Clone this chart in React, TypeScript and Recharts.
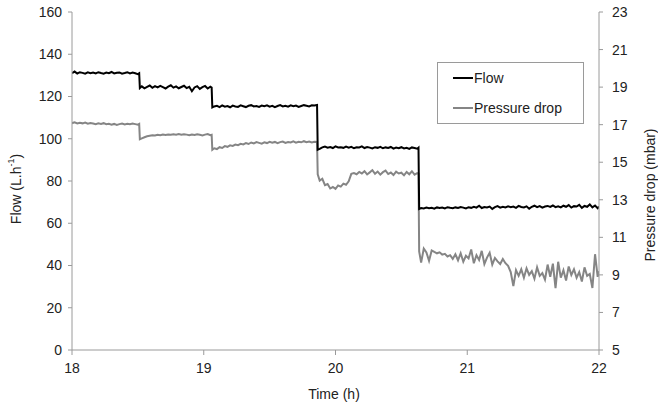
import React from "react";
import { Legend, Line, LineChart, XAxis, YAxis } from "recharts";

// Logged samples, one block per flow plateau (time in h, flow in L/h, pressure drop in mbar)
const timeA = [18.0, 18.02, 18.04, 18.06, 18.08, 18.1, 18.12, 18.14, 18.16, 18.18, 18.2, 18.22, 18.24, 18.26, 18.28, 18.3, 18.32, 18.34, 18.36, 18.38, 18.4, 18.42, 18.44, 18.46, 18.48, 18.5, 18.51];
const flowA = [131.0, 131.8, 130.9, 131.5, 131.2, 130.8, 131.4, 131.0, 131.3, 130.9, 131.5, 131.1, 130.8, 131.3, 131.0, 131.6, 130.9, 131.2, 131.4, 130.8, 131.1, 131.5, 130.9, 131.3, 131.0, 130.6, 131.0];
const dpA = [17.08, 17.12, 17.06, 17.1, 17.07, 17.11, 17.05, 17.09, 17.06, 17.03, 17.07, 17.04, 17.08, 17.02, 17.05, 17.0, 17.04, 16.99, 17.03, 17.06, 17.01, 17.05, 17.02, 17.06, 17.03, 17.0, 17.04];

const timeB = [18.515, 18.53, 18.55, 18.57, 18.59, 18.61, 18.63, 18.65, 18.67, 18.69, 18.71, 18.73, 18.75, 18.77, 18.79, 18.81, 18.83, 18.85, 18.87, 18.89, 18.91, 18.93, 18.95, 18.97, 18.99, 19.01, 19.03, 19.05, 19.06];
const flowB = [124.0, 124.8, 123.9, 124.6, 125.2, 124.1, 124.9, 124.3, 125.0, 124.4, 123.8, 124.7, 125.3, 124.2, 124.8, 123.9, 124.5, 125.1, 124.0, 124.6, 122.5, 124.3, 124.9, 123.6, 124.4, 125.0, 123.8, 124.6, 124.2];
const dpB = [16.22, 16.27, 16.33, 16.38, 16.41, 16.44, 16.42, 16.46, 16.44, 16.47, 16.45, 16.48, 16.46, 16.49, 16.47, 16.5, 16.46, 16.49, 16.47, 16.44, 16.48, 16.45, 16.49, 16.46, 16.43, 16.47, 16.5, 16.44, 16.46];

const timeC = [19.065, 19.08, 19.1, 19.12, 19.14, 19.16, 19.18, 19.2, 19.22, 19.24, 19.26, 19.28, 19.3, 19.32, 19.34, 19.36, 19.38, 19.4, 19.42, 19.44, 19.46, 19.48, 19.5, 19.52, 19.54, 19.56, 19.58, 19.6, 19.62, 19.64, 19.66, 19.68, 19.7, 19.72, 19.74, 19.76, 19.78, 19.8, 19.82, 19.84, 19.86];
const flowC = [114.8, 115.3, 115.6, 115.0, 115.8, 115.2, 115.5, 114.9, 115.7, 115.3, 115.1, 115.8, 115.4, 115.0, 115.6, 115.9, 115.3, 115.5, 115.1, 115.7, 115.4, 115.8, 115.2, 115.6, 115.0, 115.5, 115.9, 115.3, 115.6, 115.2, 115.8, 115.4, 115.7, 115.1, 115.5, 115.9, 115.6, 115.3, 115.8, 115.7, 116.0];
const dpC = [15.66, 15.74, 15.7, 15.8, 15.76, 15.86, 15.82, 15.9, 15.87, 15.94, 15.91, 15.98, 15.95, 16.02, 15.97, 16.05, 16.0, 16.07, 16.03, 15.99, 16.06, 16.02, 16.09, 16.04, 16.08, 16.01, 16.07, 16.1, 16.03, 16.08, 16.05, 16.11, 16.04, 16.09, 16.06, 16.12, 16.07, 16.1, 16.05, 16.09, 16.08];

const timeD = [19.865, 19.88, 19.9, 19.92, 19.94, 19.96, 19.98, 20.0, 20.02, 20.04, 20.06, 20.08, 20.1, 20.12, 20.14, 20.16, 20.18, 20.2, 20.22, 20.24, 20.26, 20.28, 20.3, 20.32, 20.34, 20.36, 20.38, 20.4, 20.42, 20.44, 20.46, 20.48, 20.5, 20.52, 20.54, 20.56, 20.58, 20.6, 20.62, 20.63];
const flowD = [94.8, 95.2, 95.9, 96.3, 95.8, 96.1, 95.6, 96.4, 95.9, 96.0, 95.7, 96.3, 95.8, 96.2, 95.5, 96.0, 95.9, 96.4, 95.6, 96.1, 95.8, 95.4, 96.0, 95.7, 96.2, 95.5, 95.9, 95.6, 96.1, 95.3, 95.8, 95.5, 96.0, 95.4, 95.7, 95.2, 95.9, 95.6, 95.3, 95.8];
const dpD = [14.35, 14.02, 14.12, 13.78, 13.84, 13.6, 13.68, 13.58, 13.76, 13.7, 13.86, 13.8, 13.98, 14.38, 14.42, 14.36, 14.48, 14.4, 14.52, 14.35, 14.46, 14.58, 14.38, 14.5, 14.34, 14.47, 14.55, 14.37, 14.45, 14.32, 14.5, 14.4, 14.44, 14.3, 14.48, 14.36, 14.52, 14.34, 14.42, 14.38];

const timeE = [20.635, 20.65, 20.67, 20.69, 20.71, 20.73, 20.75, 20.77, 20.79, 20.81, 20.83, 20.85, 20.87, 20.89, 20.91, 20.93, 20.95, 20.97, 20.99, 21.01, 21.03, 21.05, 21.07, 21.09, 21.11, 21.13, 21.15, 21.17, 21.19, 21.21, 21.23, 21.25, 21.27, 21.29, 21.31, 21.33, 21.35, 21.37, 21.39, 21.41, 21.43, 21.45, 21.47, 21.49, 21.51, 21.53, 21.55, 21.57, 21.59, 21.61, 21.63, 21.65, 21.67, 21.69, 21.71, 21.73, 21.75, 21.77, 21.79, 21.81, 21.83, 21.85, 21.87, 21.89, 21.91, 21.93, 21.95, 21.97, 21.99, 22.0];
const flowE = [66.8, 67.2, 67.0, 67.4, 67.1, 67.3, 66.9, 67.5, 67.2, 67.4, 67.0, 67.6, 67.3, 67.1, 67.5, 67.2, 67.7, 67.4, 67.0, 67.6, 67.3, 67.8, 67.4, 68.3, 67.2, 67.7, 67.5, 67.9, 66.8, 67.6, 68.1, 67.4, 67.8, 67.5, 68.0, 67.6, 67.9, 67.3, 68.2, 67.7, 67.5, 68.0, 66.9, 67.8, 68.3, 67.6, 68.1, 67.4, 67.9, 68.2, 67.7, 68.4, 67.6, 68.0, 67.5, 68.3, 67.8, 68.6, 67.4, 68.1, 67.9, 68.7, 67.3, 68.2, 67.8, 68.9, 67.5, 68.4, 67.1, 67.9];
const dpE = [10.25, 9.65, 10.4, 10.2, 9.75, 10.3, 10.22, 10.15, 10.2, 10.08, 10.12, 9.98, 10.05, 9.85, 10.1, 9.78, 10.15, 9.7, 10.02, 9.88, 10.35, 9.62, 10.05, 9.8, 10.28, 9.58, 9.92, 10.18, 9.55, 9.9, 9.72, 9.58, 9.85, 9.62, 9.48, 9.15, 8.4, 9.25, 8.95, 9.3, 8.85, 9.35, 9.0, 9.2, 8.8, 9.4, 8.95, 9.1, 8.75, 9.55, 8.9, 9.6, 8.3, 9.7, 8.85, 9.25, 8.7, 9.45, 9.0, 9.3, 8.85, 9.15, 8.65, 9.4, 8.95, 9.05, 8.3, 10.1, 8.9, 9.2];

const timeTicks = [18, 19, 20, 21, 22];
const flowTicks = [0, 20, 40, 60, 80, 100, 120, 140, 160];
const dpTicks = [5, 7, 9, 11, 13, 15, 17, 19, 21, 23];

const time = [...timeA, ...timeB, ...timeC, ...timeD, ...timeE];
const flow = [...flowA, ...flowB, ...flowC, ...flowD, ...flowE];
const pressureDrop = [...dpA, ...dpB, ...dpC, ...dpD, ...dpE];

const data = time.map((t, i) => ({ time: t, flow: flow[i], dp: pressureDrop[i] }));

const FONT = "'Liberation Sans', Arial, sans-serif";
const AXIS = "#9a9a9a";
const TEXT = "#222";
const GREY = "#858585";

const FlowLabel = () => (
  <text
    transform="translate(16,189) rotate(-90)"
    textAnchor="middle"
    dominantBaseline="central"
    fontSize={14}
    fontFamily={FONT}
    fill={TEXT}
  >
    Flow (L.h
    <tspan dy={-5} fontSize={9}>
      -1
    </tspan>
    <tspan dy={5}>)</tspan>
  </text>
);

const PressureLabel = () => (
  <text
    transform="translate(650,195) rotate(-90)"
    textAnchor="middle"
    dominantBaseline="central"
    fontSize={14}
    fontFamily={FONT}
    fill={TEXT}
  >
    Pressure drop (mbar)
  </text>
);

const TimeLabel = () => (
  <text
    x={334}
    y={394}
    textAnchor="middle"
    dominantBaseline="central"
    fontSize={14}
    fontFamily={FONT}
    fill={TEXT}
  >
    Time (h)
  </text>
);

const LegendBox = () => (
  <div
    style={{
      width: 145,
      height: 60,
      border: `1px solid ${AXIS}`,
      background: "#fff",
      fontFamily: FONT,
      fontSize: 14,
      color: TEXT,
      boxSizing: "content-box",
    }}
  >
    {[
      { name: "Flow", color: "#000", top: 8 },
      { name: "Pressure drop", color: GREY, top: 38 },
    ].map((item) => (
      <div
        key={item.name}
        style={{ position: "absolute", left: 16, top: item.top, display: "flex", alignItems: "center" }}
      >
        <span style={{ display: "inline-block", width: 20, height: 2, background: item.color }} />
        <span style={{ marginLeft: 1, lineHeight: "16px" }}>{item.name}</span>
      </div>
    ))}
  </div>
);

export default function App() {
  return (
    <div style={{ position: "absolute", left: 0, top: 0, width: 658, height: 410, background: "#fff" }}>
      <LineChart width={658} height={410} data={data} margin={{ top: 12, right: 0, bottom: 0, left: 0 }}>
        <XAxis
          dataKey="time"
          type="number"
          domain={[18, 22]}
          ticks={timeTicks}
          allowDataOverflow
          height={60}
          stroke={AXIS}
          tickSize={5}
          tickMargin={8}
          tick={{ fill: TEXT, fontSize: 14, fontFamily: FONT }}
          label={<TimeLabel />}
        />
        <YAxis
          yAxisId="flow"
          domain={[0, 160]}
          ticks={flowTicks}
          width={72}
          stroke={AXIS}
          tickSize={4}
          tickMargin={6}
          tick={{ fill: TEXT, fontSize: 14, fontFamily: FONT }}
          label={<FlowLabel />}
        />
        <YAxis
          yAxisId="dp"
          orientation="right"
          domain={[5, 23]}
          ticks={dpTicks}
          width={59}
          stroke={AXIS}
          tickSize={4}
          tickMargin={9}
          tick={{ fill: TEXT, fontSize: 14, fontFamily: FONT }}
          label={<PressureLabel />}
        />
        <Legend
          layout="vertical"
          align="center"
          verticalAlign="middle"
          content={<LegendBox />}
          wrapperStyle={{ left: 437, top: 62, width: 147, height: 62 }}
        />
        <Line
          yAxisId="dp"
          dataKey="dp"
          name="Pressure drop"
          type="linear"
          stroke={GREY}
          strokeWidth={2}
          dot={false}
          isAnimationActive={false}
        />
        <Line
          yAxisId="flow"
          dataKey="flow"
          name="Flow"
          type="linear"
          stroke="#000"
          strokeWidth={2}
          dot={false}
          isAnimationActive={false}
        />
      </LineChart>
    </div>
  );
}
